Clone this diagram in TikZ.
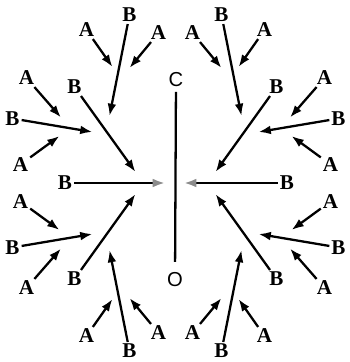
\documentclass[tikz,border=0pt]{standalone}
\usepackage{fontspec}
\setmainfont{Liberation Serif}
\newfontfamily\axisfont{Liberation Sans}
\usetikzlibrary{arrows.meta}

\tikzset{
  lbl/.style={inner sep=1pt, font=\fontsize{12}{14}\selectfont\bfseries},
  axlbl/.style={inner sep=1pt, font=\axisfont\fontsize{11.5}{14}\selectfont},
  force/.style={line width=1.3pt, -{Latex[length=7pt,width=5pt]}},
  faint/.style={line width=1.3pt, -{Latex[length=7pt,width=5pt,color=black!45]}}
}

\begin{document}
\begin{tikzpicture}[x=0.02cm, y=-0.02cm]
        \useasboundingbox (0,0) rectangle (349,362);

        % Axis C--O
        \node[axlbl] (C) at (176,80) {C};
        \node[axlbl] (O) at (175,280) {O};
        \draw[line width=1.3pt, shorten <=1.5pt, shorten >=5pt] (C) -- (O);

        % Horizontal B arrows
        \node[lbl] (Bw) at (65,183) {B};
        \node[lbl] (Be) at (287,183) {B};
        \coordinate (hw) at (165,183);
        \coordinate (he) at (184,183);
        \draw[faint] (Bw) -- (hw);
        \draw[faint] (Be) -- (he);

        % The four mirrored groups of arrows
        \foreach \sx/\sy/\q in {-1/-1/nw, 1/-1/ne, -1/1/sw, 1/1/se}{
          \begin{scope}[shift={(175.5,183)}, xscale=\sx, yscale=\sy]
            % labels
            \node[lbl] (Bf\q) at (46,168)    {B};
            \node[lbl] (Ao\q) at (89,153)    {A};
            \node[lbl] (Ai\q) at (17,150)    {A};
            \node[lbl] (Bd\q) at (101,96)    {B};
            \node[lbl] (Af\q) at (149,105)   {A};
            \node[lbl] (Bs\q) at (163,64.5)  {B};
            \node[lbl] (An\q) at (155,18.5)  {A};
            % arrow heads
            \coordinate (hBf\q) at (66,67);
            \coordinate (hAo\q) at (63,116);
            \coordinate (hAi\q) at (46,115);
            \coordinate (hBd\q) at (40,11);
            \coordinate (hAf\q) at (114.5,65.5);
            \coordinate (hBs\q) at (83,51);
            \coordinate (hAn\q) at (116,47);
            % arrows
            \draw[force] (Bf\q) -- (hBf\q);
            \draw[force] (Ao\q) -- (hAo\q);
            \draw[force] (Ai\q) -- (hAi\q);
            \draw[force] (Bd\q) -- (hBd\q);
            \draw[force] (Af\q) -- (hAf\q);
            \draw[force] (Bs\q) -- (hBs\q);
            \draw[force] (An\q) -- (hAn\q);
          \end{scope}
        }

    \end{tikzpicture}
\end{document}
